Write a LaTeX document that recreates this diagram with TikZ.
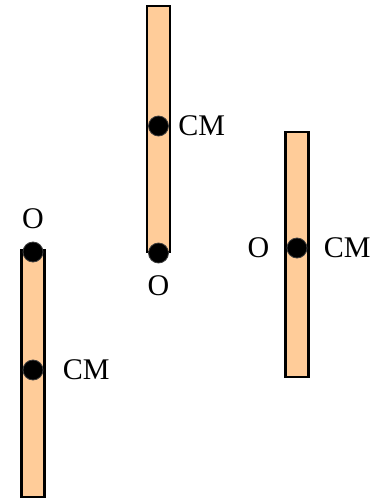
\documentclass[tikz,border=0pt]{standalone}
\usepackage{fontspec}
\setmainfont{Liberation Serif}
\usepackage{tikz}
\usetikzlibrary{positioning}
\definecolor{peach}{RGB}{255,204,153}
\definecolor{ringgray}{RGB}{60,60,60}

\begin{document}
\begin{tikzpicture}[
  x=0.5pt,y=-0.5pt,
  rod/.style={rectangle,draw=black,line width=1.2pt,fill=peach,
    minimum width=11.5pt,inner sep=0pt},
  pivot/.style={circle,fill=black,draw=ringgray,line width=0.4pt,
    minimum size=10pt,inner sep=0pt},
  lbl/.style={font=\fontsize{15}{18}\selectfont,inner sep=0pt},
]
\useasboundingbox (0,0) rectangle (376,499);

% rods
\node[rod,minimum height=123.5pt] (rodA) at (33,373.5) {};
\node[rod,minimum height=123pt] (rodB) at (158.5,129) {};
\node[rod,minimum height=122.5pt] (rodC) at (297,254.5) {};

% pivot and centre of mass points
\node[pivot] (topA) at (33,252) {};
\node[pivot] (cmA) at (33,370) {};
\node[pivot] (cmB) at (158.5,126) {};
\node[pivot] (botB) at (158.5,253) {};
\node[pivot] (midC) at (297,248) {};

\node[lbl,above=6pt of topA] (oA) {O};
\node[lbl,right=9.5pt of cmA] (cmlblA) {CM};
\node[lbl,right=4.5pt of cmB] (cmlblB) {CM};
\node[lbl,below=6pt of botB] (oB) {O};
\node[lbl,left=8.5pt of midC] (oC) {O};
\node[lbl,right=8pt of midC] (cmlblC) {CM};
\end{tikzpicture}
\end{document}
